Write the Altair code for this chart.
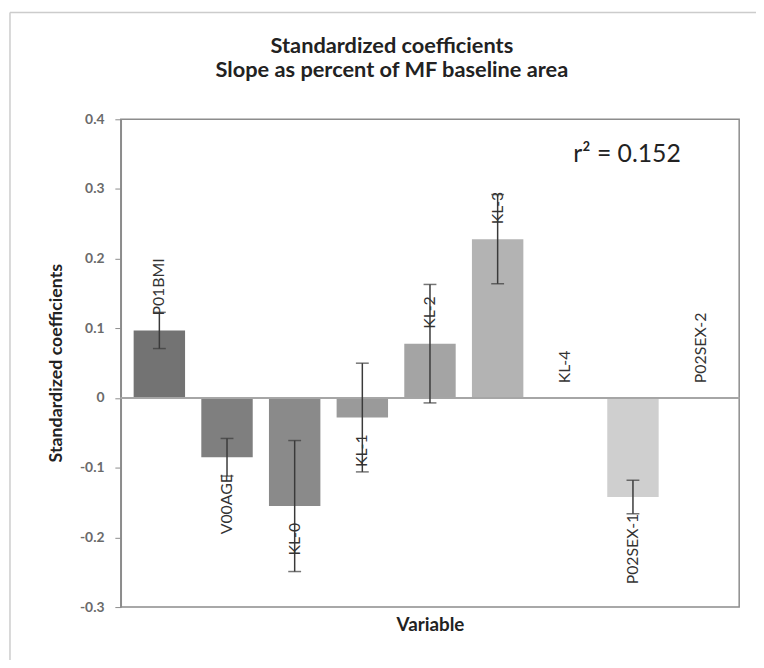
import altair as alt
import pandas as pd

variables = ["P01BMI", "V00AGE", "KL-0", "KL-1", "KL-2", "KL-3", "KL-4", "P02SEX-1", "P02SEX-2"]
coefs = [0.097, -0.085, -0.155, -0.028, 0.078, 0.228, 0.0, -0.142, 0.0]
errs = [0.026, 0.027, 0.094, 0.078, 0.085, 0.064, None, 0.024, None]
bar_colors = ["#737373", "#7f7f7f", "#8a8a8a", "#9a9a9a", "#a4a4a4", "#b3b3b3", "#c0c0c0", "#cfcfcf", "#dadada"]
y_ticks = [-0.3, -0.2, -0.1, 0, 0.1, 0.2, 0.3, 0.4]
r2_text = "r\u00b2 = 0.152"
title_lines = ["Standardized coefficients", "Slope as percent of MF baseline area"]

df = pd.DataFrame({"Variable": variables, "coef": coefs, "err": errs})
df["lo"] = df["coef"] - df["err"]
df["hi"] = df["coef"] + df["err"]

FONT = "Lato"

x_enc = alt.X("Variable:N", sort=variables,
              scale=alt.Scale(paddingInner=0.24, paddingOuter=0.19),
              axis=alt.Axis(labels=False, ticks=False, domain=False, title="Variable",
                            titleFont=FONT, titleFontSize=19, titleFontWeight="bold",
                            titleColor="#222222", titlePadding=9))

y_scale = alt.Scale(domain=[-0.3, 0.4], nice=False, zero=False)

base = alt.Chart(df)

bars = base.mark_bar().encode(
    x=x_enc,
    y=alt.Y("coef:Q", scale=y_scale,
            axis=alt.Axis(values=y_ticks, grid=False,
                          labelExpr="datum.value == 0 ? '0' : toString(round(datum.value*10)/10)",
                          labelFont=FONT, labelFontSize=14, labelFontWeight="bold", labelColor="#6a6a6a",
                          labelPadding=11, tickSize=6, tickColor="#8c8c8c", domainColor="#8c8c8c",
                          domainWidth=1.5, title="Standardized coefficients",
                          titleFont=FONT, titleFontSize=18, titleFontWeight="bold", titleColor="#222222",
                          titleAngle=270, titleX=-65, titleY=246, titleAlign="center",
                          titleBaseline="middle")),
    color=alt.Color("Variable:N", sort=variables, scale=alt.Scale(domain=variables, range=bar_colors),
                    legend=None),
)

zero = base.mark_rule(color="#a6a6a6", strokeWidth=1.5).encode(y=alt.datum(0))

err_df = df.dropna(subset=["err"])
ebase = alt.Chart(err_df)
err_rule = ebase.mark_rule(color="#3a3a3a", strokeWidth=1.5).encode(
    x=alt.X("Variable:N", sort=variables), y="lo:Q", y2="hi:Q")
cap_lo = ebase.mark_tick(color="#3a3a3a", size=13, thickness=1.5).encode(
    x=alt.X("Variable:N", sort=variables), y="lo:Q")
cap_hi = ebase.mark_tick(color="#3a3a3a", size=13, thickness=1.5).encode(
    x=alt.X("Variable:N", sort=variables), y="hi:Q")

lab_pos = base.transform_filter("datum.coef >= 0").mark_text(
    angle=270, align="left", baseline="middle", dx=15, font=FONT, fontSize=16, color="#333333"
).encode(x=alt.X("Variable:N", sort=variables), y="coef:Q", text="Variable:N")

lab_neg = base.transform_filter("datum.coef < 0").mark_text(
    angle=270, align="right", baseline="middle", dx=-17, font=FONT, fontSize=16, color="#333333"
).encode(x=alt.X("Variable:N", sort=variables), y="coef:Q", text="Variable:N")

r2 = alt.Chart(pd.DataFrame({"t": [r2_text]})).mark_text(
    font=FONT, fontSize=25, color="#222222", align="center", baseline="middle", dx=-6
).encode(x=alt.datum("P02SEX-1"), y=alt.datum(0.35), text="t:N")

title1 = alt.Chart(pd.DataFrame({"t": [title_lines[0]]})).mark_text(
    font=FONT, fontSize=22, fontWeight="bold", color="#222222", align="center", baseline="alphabetic"
).encode(x=alt.value(274), y=alt.value(-67), text="t:N")
title2 = alt.Chart(pd.DataFrame({"t": [title_lines[1]]})).mark_text(
    font=FONT, fontSize=22, fontWeight="bold", color="#222222", align="center", baseline="alphabetic"
).encode(x=alt.value(274), y=alt.value(-43), text="t:N")

border_top = alt.Chart(pd.DataFrame({"a": [0]})).mark_rule(color="#cccccc", strokeWidth=1.5).encode(
    x=alt.value(-112), x2=alt.value(700), y=alt.value(-108))
border_left = alt.Chart(pd.DataFrame({"a": [0]})).mark_rule(color="#cccccc", strokeWidth=1.5).encode(
    x=alt.value(-112), y=alt.value(-108), y2=alt.value(600))

chart = alt.layer(
    border_top, border_left, title1, title2, bars, zero, err_rule, cap_lo, cap_hi, lab_pos, lab_neg, r2
).properties(
    width=625, height=493,
    padding={"left": 114, "top": 109, "right": 17, "bottom": 50},
    autosize=alt.AutoSizeParams(type="none"),
).configure_view(stroke="#8c8c8c", strokeWidth=1.5)

chart.save("out.html", embed_options={"renderer": "svg", "actions": False})
